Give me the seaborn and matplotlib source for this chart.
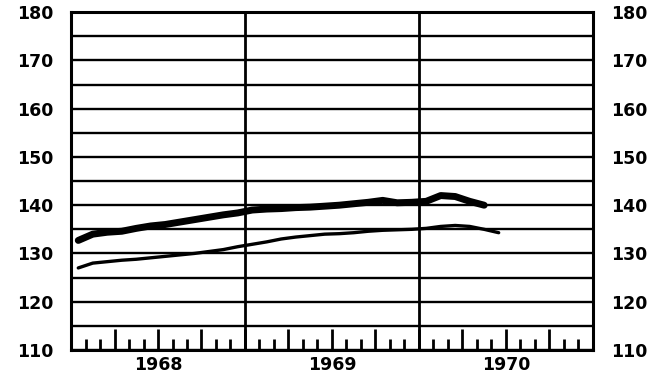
import pandas as pd
import numpy as np
import matplotlib
matplotlib.use("Agg")
import matplotlib.pyplot as plt
import seaborn as sns

# ==============================
# Data (monthly, Jan 1968 = month 0)
# ==============================

years = ["1968", "1969", "1970"]

upper_values = [
    132.7, 134.0, 134.4, 134.6, 135.2, 135.7, 136.0, 136.5, 137.0, 137.5, 138.0, 138.4,
    139.0, 139.2, 139.3, 139.5, 139.6, 139.8, 140.0, 140.3, 140.6, 141.0, 140.5, 140.6,
    140.8, 142.0, 141.8, 140.8, 140.0,
]

lower_values = [
    127.0, 128.0, 128.3, 128.6, 128.8, 129.1, 129.4, 129.7, 130.0, 130.4, 130.8, 131.4,
    131.9, 132.4, 133.0, 133.4, 133.7, 134.0, 134.1, 134.3, 134.6, 134.8, 134.9, 135.0,
    135.2, 135.6, 135.8, 135.6, 135.0, 134.3,
]

df = pd.concat([
    pd.DataFrame({"month": np.arange(len(upper_values)) + 0.5,
                  "value": upper_values, "series": "upper"}),
    pd.DataFrame({"month": np.arange(len(lower_values)) + 0.5,
                  "value": lower_values, "series": "lower"}),
])

# ==============================
# Plot
# ==============================

sns.set_style("white")
plt.rcParams["font.family"] = ["DejaVu Sans"]
plt.rcParams["text.color"] = "black"
plt.rcParams["xtick.color"] = "black"
plt.rcParams["ytick.color"] = "black"

fig = plt.figure(figsize=(6.54, 3.80), dpi=100)
ax = fig.add_axes([0.1086, 0.079, 0.798, 0.889])

sns.lineplot(data=df, x="month", y="value", hue="series", size="series",
             palette={"upper": "black", "lower": "black"},
             sizes={"upper": 5.0, "lower": 2.4},
             legend=False, ax=ax, zorder=3)

n_months = 12 * len(years)
ax.set_xlim(0, n_months)
ax.set_ylim(110, 180)

# horizontal grid every 5
ax.set_yticks(np.arange(110, 181, 10))
ax.set_yticks(np.arange(115, 180, 10), minor=True)
ax.yaxis.grid(True, which="both", color="black", linewidth=1.7)
ax.tick_params(axis="y", which="both", length=0, labelsize=12.5,
               labelright=True, labelleft=True, labelcolor="black", pad=13)
for lab in ax.get_yticklabels():
    lab.set_fontweight("bold")

# year boundaries
for b in range(12, n_months, 12):
    ax.axvline(b, color="black", linewidth=2.0, zorder=2)

# quarter ticks (long) with year labels, month ticks (short)
quarters = np.arange(3, n_months, 3)
labels = []
for q in quarters:
    if q % 12 == 6:
        labels.append(years[q // 12])
    else:
        labels.append("")
ax.set_xticks(quarters)
ax.set_xticklabels(labels, fontweight="bold", fontsize=12.5)
ax.set_xticks(np.arange(1, n_months), minor=True)
ax.tick_params(axis="x", which="both", bottom=True, top=False, color="black",
               labelcolor="black")
ax.tick_params(axis="x", which="major", direction="in", length=15, width=2, pad=4)
ax.tick_params(axis="x", which="minor", direction="in", length=8, width=2)
ax.set_xlabel("")
ax.set_ylabel("")

for spine in ax.spines.values():
    spine.set_visible(True)
    spine.set_color("black")
    spine.set_linewidth(2.2)

fig.savefig("out.png", dpi=100, facecolor="white")
plt.close(fig)
